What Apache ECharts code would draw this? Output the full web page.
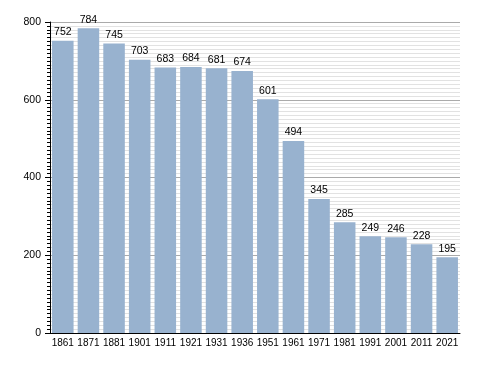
<!DOCTYPE html>
<html><head><meta charset="utf-8">
<script src="https://cdn.jsdelivr.net/npm/echarts@6/dist/echarts.min.js"></script>
<style>html,body{margin:0;padding:0;background:#fff}#c{width:488px;height:373px}</style>
</head><body><div id="c"></div>
<script>
const years = ['1861','1871','1881','1901','1911','1921','1931','1936','1951','1961','1971','1981','1991','2001','2011','2021'];
const population = [752,784,745,703,683,684,681,674,601,494,345,285,249,246,228,195];
const yTicks = [0,200,400,600,800];

const chart = echarts.init(document.getElementById('c'), null, {renderer:'canvas'});
chart.setOption({
  animation:false,
  grid:{left:50,right:28,top:22,bottom:40,containLabel:false},
  xAxis:{
    type:'category', data:years,
    axisLine:{lineStyle:{color:'#000',width:1}},
    axisTick:{show:false},
    axisLabel:{color:'#000',fontSize:10,fontFamily:'Liberation Sans, Arial, sans-serif',margin:5,interval:0}
  },
  yAxis:{
    type:'value', min:yTicks[0], max:yTicks[yTicks.length-1], interval:200,
    axisLine:{show:true,lineStyle:{color:'#000'}},
    axisTick:{show:true,length:5,lineStyle:{color:'#000'}},
    minorTick:{show:true,splitNumber:20,length:3,lineStyle:{color:'#000'}},
    splitLine:{show:true,lineStyle:{color:'#aaaaaa',width:1}},
    minorSplitLine:{show:true,lineStyle:{color:'#e2e2e2',width:1}},
    axisLabel:{color:'#000',fontSize:10.5,fontFamily:'Liberation Sans, Arial, sans-serif',margin:9}
  },
  series:[{
    type:'bar', data:population, barCategoryGap:'16%',
    itemStyle:{color:'#98b2cf'},
    label:{show:true,position:'top',color:'#000',fontSize:10.5,distance:3,fontFamily:'Liberation Sans, Arial, sans-serif'}
  }]
});
</script></body></html>
